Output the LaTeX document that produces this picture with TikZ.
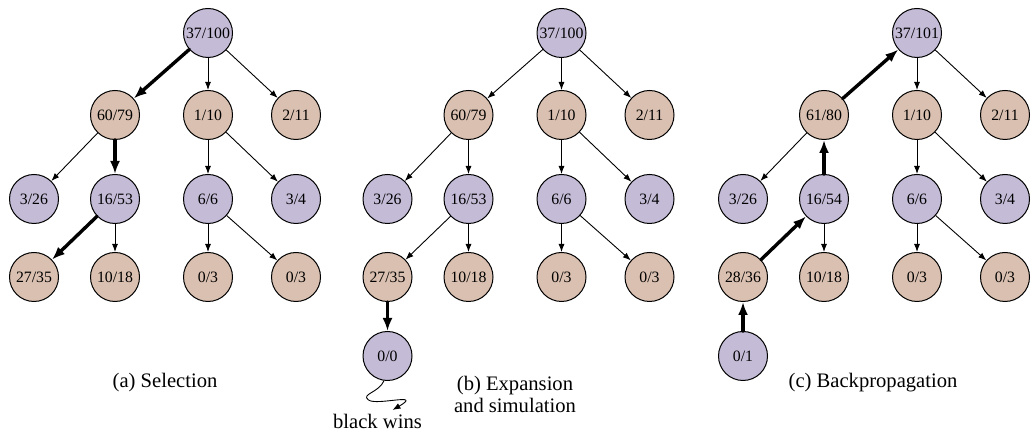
\documentclass[tikz,border=0pt]{standalone}
\usepackage{fontspec}
\setmainfont{Liberation Serif}
\usetikzlibrary{arrows.meta}

\definecolor{blackmove}{RGB}{196,187,215}
\definecolor{whitemove}{RGB}{218,192,176}

\tikzset{
	state/.style={circle, draw, line width=0.5pt, minimum size=24.5pt, inner sep=0pt, font=\fontsize{7.9}{9}\selectfont},
	bnode/.style={state, fill=blackmove},
	wnode/.style={state, fill=whitemove},
	thin arrow/.style={-{Latex[length=4pt,width=3pt]}, line width=0.45pt},
	bold arrow/.style={-{Latex[length=6.5pt,width=5pt]}, line width=1.7pt},
	caption/.style={font=\fontsize{10.3}{11}\selectfont, align=center}
}

\begin{document}
\begin{tikzpicture}[line cap=round, line join=round, x=0.5pt, y=-0.5pt]
	% Picture frame (pixel units, y pointing down)
	\useasboundingbox (0,0) rectangle (1031,431);
	
	% Column and level positions
	\def\ca{34}  \def\cb{115} \def\cc{208} \def\cd{296}
	\def\la{33}  \def\lb{115} \def\lc{199} \def\ld{277} \def\le{356}
	
	% (a) Selection
	\begin{scope}
		\node[bnode] (a0) at (\cc,\la) {37/100};
		\node[wnode] (a1) at (\cb,\lb) {60/79};
		\node[wnode] (a2) at (\cc,\lb) {1/10};
		\node[wnode] (a3) at (\cd,\lb) {2/11};
		\node[bnode] (a11) at (\ca,\lc) {3/26};
		\node[bnode] (a12) at (\cb,\lc) {16/53};
		\node[bnode] (a21) at (\cc,\lc) {6/6};
		\node[bnode] (a22) at (\cd,\lc) {3/4};
		\node[wnode] (a121) at (\ca,\ld) {27/35};
		\node[wnode] (a122) at (\cb,\ld) {10/18};
		\node[wnode] (a211) at (\cc,\ld) {0/3};
		\node[wnode] (a212) at (\cd,\ld) {0/3};
		
		\draw[bold arrow] (a0) -- (a1);
		\draw[thin arrow] (a0) -- (a2);
		\draw[thin arrow] (a0) -- (a3);
		\draw[thin arrow] (a1) -- (a11);
		\draw[bold arrow] (a1) -- (a12);
		\draw[thin arrow] (a2) -- (a21);
		\draw[thin arrow] (a2) -- (a22);
		\draw[bold arrow] (a12) -- (a121);
		\draw[thin arrow] (a12) -- (a122);
		\draw[thin arrow] (a21) -- (a211);
		\draw[thin arrow] (a21) -- (a212);
		
		\node[caption] (acap) at (165,383) {(a) Selection};
	\end{scope}
	
	% (b) Expansion and simulation
	\begin{scope}[shift={(353.5,0)}]
		\node[bnode] (b0) at (\cc,\la) {37/100};
		\node[wnode] (b1) at (\cb,\lb) {60/79};
		\node[wnode] (b2) at (\cc,\lb) {1/10};
		\node[wnode] (b3) at (\cd,\lb) {2/11};
		\node[bnode] (b11) at (\ca,\lc) {3/26};
		\node[bnode] (b12) at (\cb,\lc) {16/53};
		\node[bnode] (b21) at (\cc,\lc) {6/6};
		\node[bnode] (b22) at (\cd,\lc) {3/4};
		\node[wnode] (b121) at (\ca,\ld) {27/35};
		\node[wnode] (b122) at (\cb,\ld) {10/18};
		\node[wnode] (b211) at (\cc,\ld) {0/3};
		\node[wnode] (b212) at (\cd,\ld) {0/3};
		\node[bnode] (b1211) at (\ca,\le) {0/0};
		
		\draw[thin arrow] (b0) -- (b1);
		\draw[thin arrow] (b0) -- (b2);
		\draw[thin arrow] (b0) -- (b3);
		\draw[thin arrow] (b1) -- (b11);
		\draw[thin arrow] (b1) -- (b12);
		\draw[thin arrow] (b2) -- (b21);
		\draw[thin arrow] (b2) -- (b22);
		\draw[thin arrow] (b12) -- (b121);
		\draw[thin arrow] (b12) -- (b122);
		\draw[thin arrow] (b21) -- (b211);
		\draw[thin arrow] (b21) -- (b212);
		\draw[bold arrow] (b121) -- (b1211);
		
		% Random playout
		\node[caption, inner sep=0pt, anchor=base] (bwins) at (24,429) {black wins};
		\coordinate (bend) at (39,410);
		\draw[thin arrow] (b1211.262) .. controls (25,393) and (7,394) .. (15,400)
			.. controls (23,406) and (70,392) .. (bend);
		
		\node[caption] (bcap) at (161.5,394) {(b) Expansion\\and simulation};
	\end{scope}
	
	% (c) Backpropagation
	\begin{scope}[shift={(709,0)}]
		\node[bnode] (c0) at (\cc,\la) {37/101};
		\node[wnode] (c1) at (\cb,\lb) {61/80};
		\node[wnode] (c2) at (\cc,\lb) {1/10};
		\node[wnode] (c3) at (\cd,\lb) {2/11};
		\node[bnode] (c11) at (\ca,\lc) {3/26};
		\node[bnode] (c12) at (\cb,\lc) {16/54};
		\node[bnode] (c21) at (\cc,\lc) {6/6};
		\node[bnode] (c22) at (\cd,\lc) {3/4};
		\node[wnode] (c121) at (\ca,\ld) {28/36};
		\node[wnode] (c122) at (\cb,\ld) {10/18};
		\node[wnode] (c211) at (\cc,\ld) {0/3};
		\node[wnode] (c212) at (\cd,\ld) {0/3};
		\node[bnode] (c1211) at (\ca,\le) {0/1};
		
		\draw[bold arrow] (c1) -- (c0);
		\draw[thin arrow] (c0) -- (c2);
		\draw[thin arrow] (c0) -- (c3);
		\draw[thin arrow] (c1) -- (c11);
		\draw[bold arrow] (c12) -- (c1);
		\draw[thin arrow] (c2) -- (c21);
		\draw[thin arrow] (c2) -- (c22);
		\draw[bold arrow] (c121) -- (c12);
		\draw[thin arrow] (c12) -- (c122);
		\draw[thin arrow] (c21) -- (c211);
		\draw[thin arrow] (c21) -- (c212);
		\draw[bold arrow] (c1211) -- (c121);
		
		\node[caption] (ccap) at (164,383) {(c) Backpropagation};
	\end{scope}
\end{tikzpicture}
\end{document}
